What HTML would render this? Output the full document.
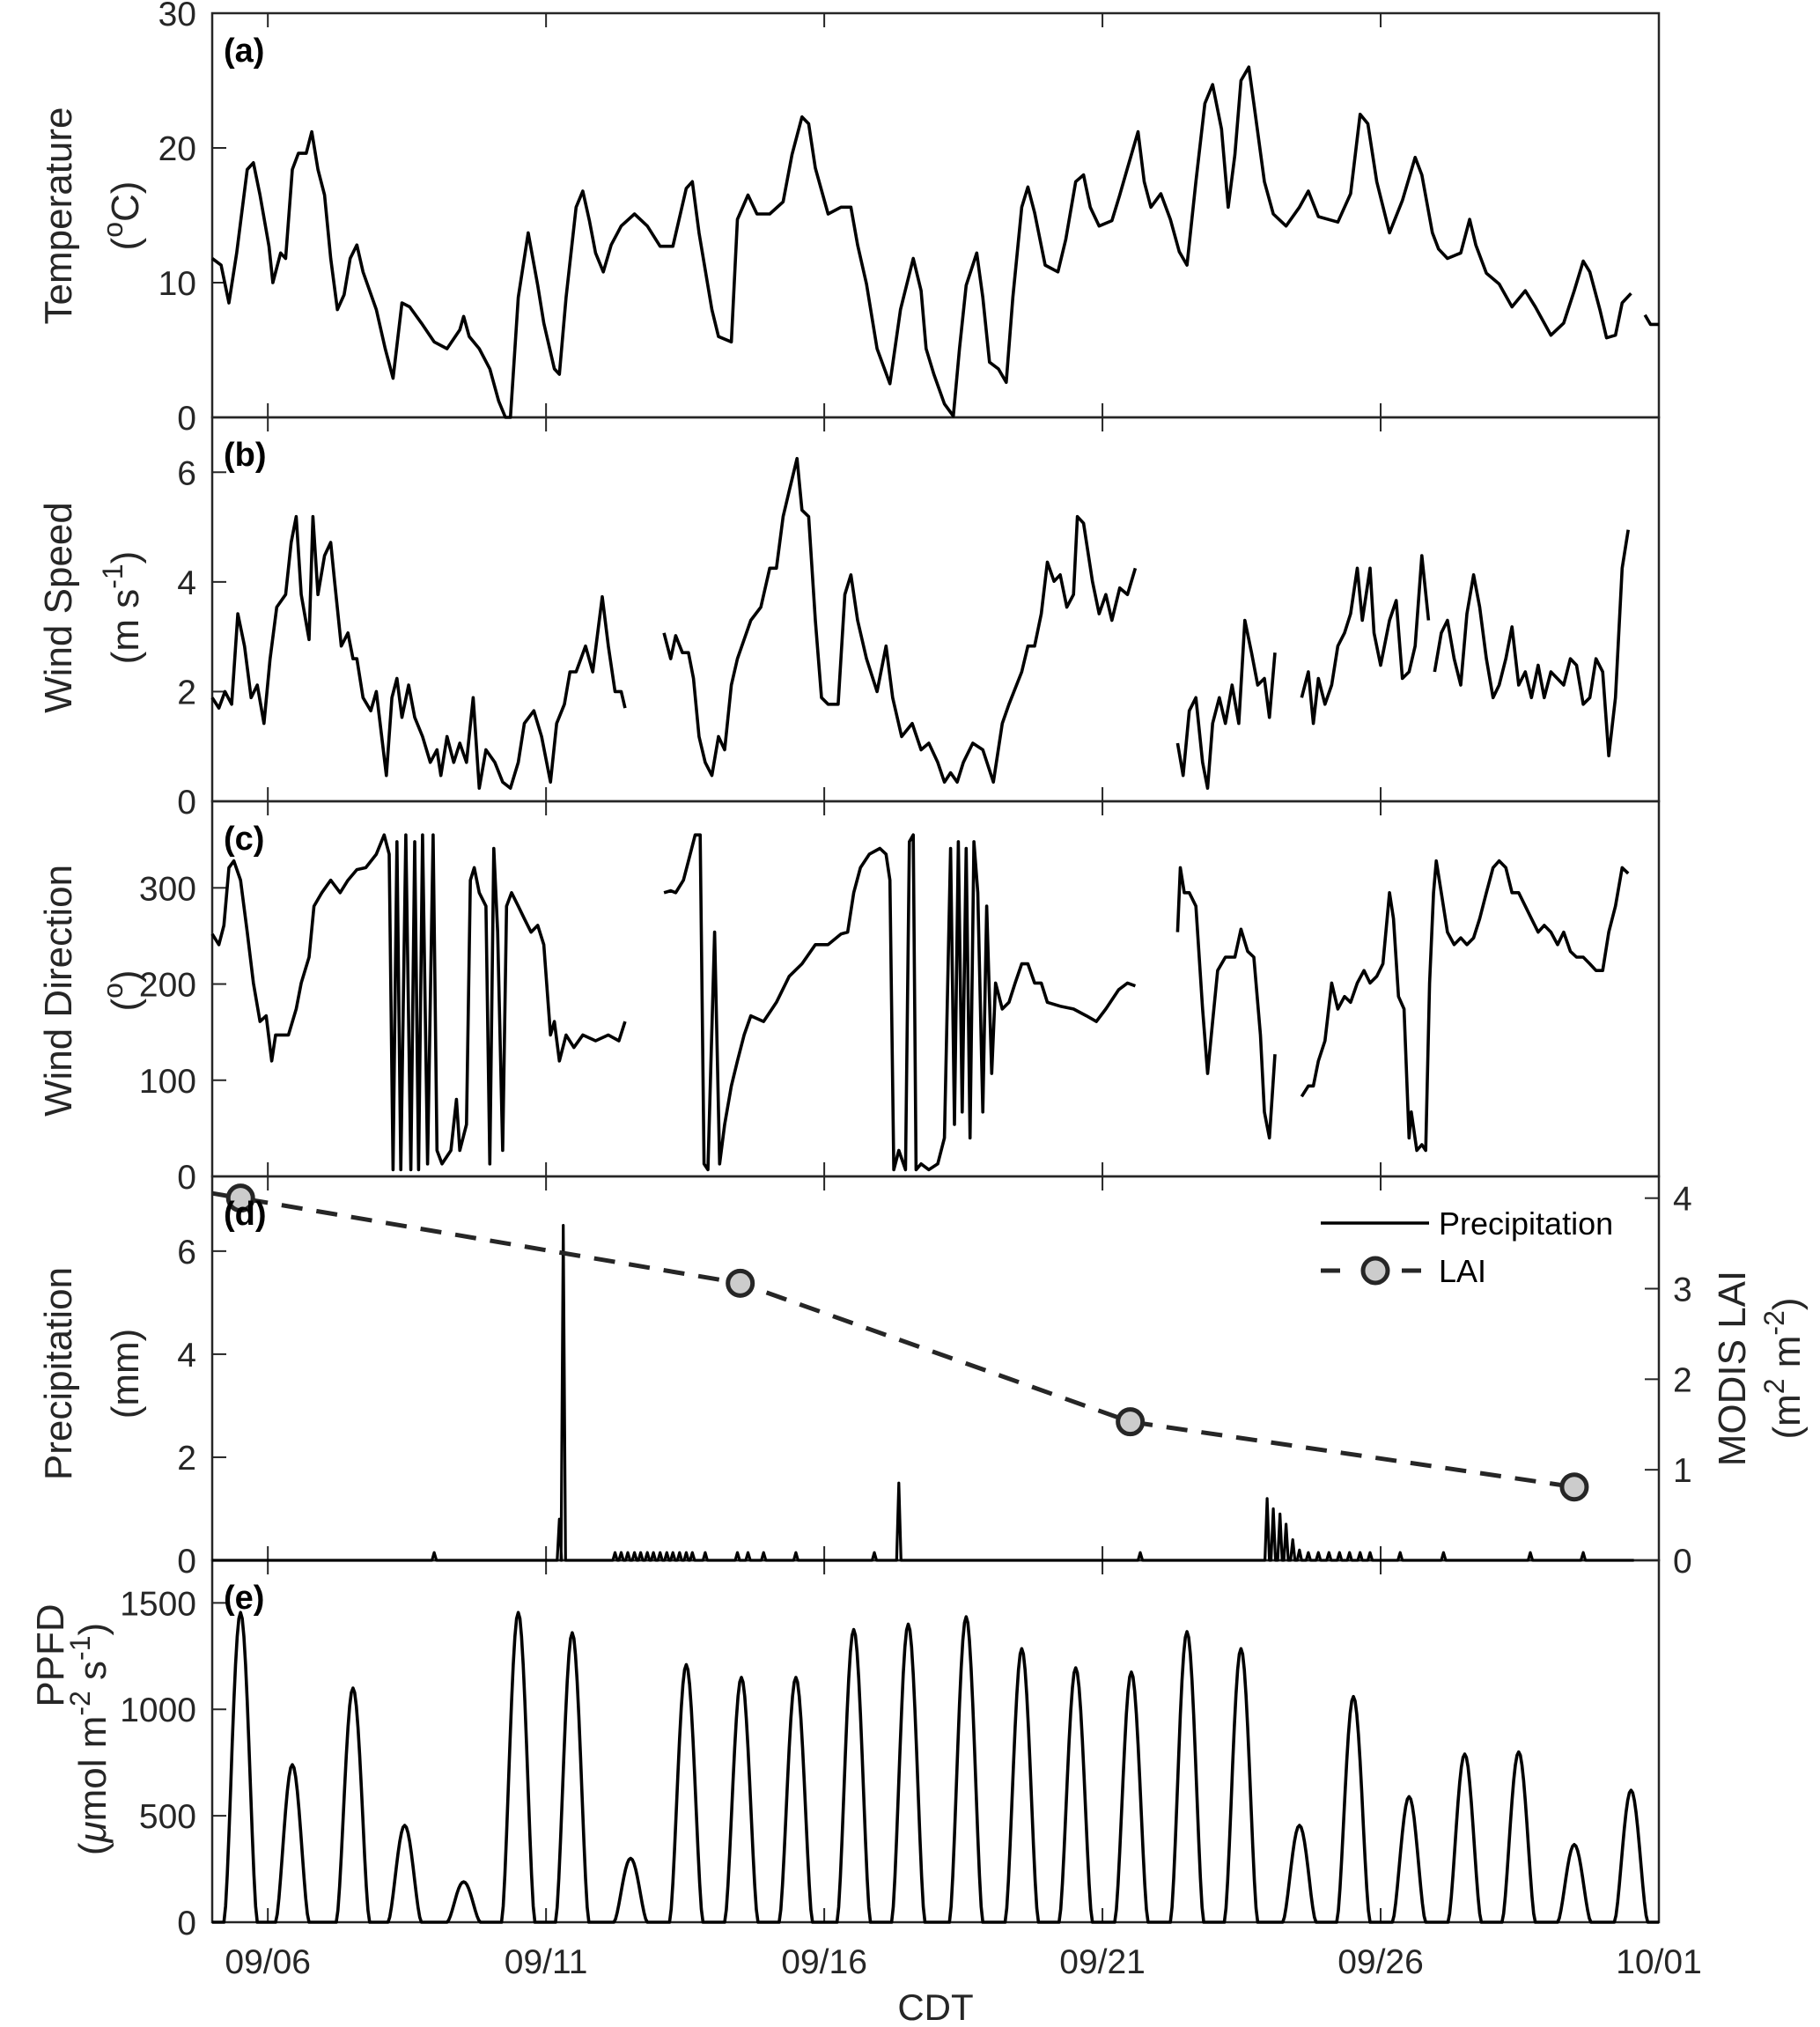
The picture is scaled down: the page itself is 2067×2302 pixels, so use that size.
<!DOCTYPE html>
<html><head><meta charset="utf-8">
<style>
html,body{margin:0;padding:0;background:#fff;}
svg{display:block;font-family:"Liberation Sans",Arial,sans-serif;}
</style></head>
<body>
<svg id="chart" width="2067" height="2302" viewBox="0 0 2067 2302" xmlns="http://www.w3.org/2000/svg">
<g id="frames"></g>
<g id="marks"></g>
<g id="labels"></g>
</svg>
<script>
// ---- x axis (days since 09/05 00:00 CDT) ----
const xTickDays = [1, 6, 11, 16, 21, 26];
const xTickLabels = ["09/06", "09/11", "09/16", "09/21", "09/26", "10/01"];

// ---- (a) temperature ----
const tempDays = [0,0.16,0.30,0.44,0.63,0.74,0.86,1.02,1.09,1.23,1.32,1.44,1.55,1.69,1.79,1.90,2.02,2.13,2.25,2.37,2.48,2.60,2.71,2.95,3.11,3.25,3.41,3.55,3.76,3.99,4.22,4.45,4.52,4.62,4.80,4.99,5.15,5.27,5.36,5.50,5.68,5.85,5.96,6.15,6.24,6.36,6.54,6.66,6.78,6.89,7.03,7.17,7.35,7.59,7.82,8.05,8.28,8.52,8.63,8.75,8.98,9.10,9.33,9.44,9.63,9.79,10.02,10.26,10.42,10.60,10.72,10.84,11.07,11.30,11.48,11.60,11.76,11.95,12.18,12.37,12.60,12.74,12.83,12.97,13.16,13.32,13.43,13.55,13.74,13.85,13.97,14.13,14.27,14.39,14.55,14.66,14.78,14.97,15.20,15.34,15.52,15.66,15.78,15.94,16.17,16.31,16.45,16.64,16.75,16.87,17.05,17.22,17.38,17.52,17.68,17.84,17.98,18.14,18.26,18.38,18.49,18.63,18.72,18.91,19.07,19.30,19.54,19.70,19.88,20.23,20.46,20.63,20.77,20.93,21.16,21.39,21.62,21.74,21.93,22.04,22.20,22.44,22.60,22.71,22.90,23.13,23.36,23.60,23.78,23.94,24.06,24.29,24.48,24.64,24.76,24.94,25.06,25.22,25.34,25.50,25.62,25.75,25.85,26.0];
const tempVals = [11.8,11.3,8.5,12.2,18.4,18.9,16.5,12.7,10.0,12.2,11.8,18.4,19.6,19.6,21.2,18.4,16.5,11.8,8.0,9.1,11.8,12.8,10.8,8.0,5.1,2.9,8.5,8.2,7.0,5.6,5.1,6.5,7.5,6.0,5.1,3.6,1.2,0,0,8.9,13.7,9.8,7.0,3.6,3.2,8.9,15.6,16.8,14.6,12.2,10.8,12.8,14.2,15.1,14.2,12.7,12.7,17.0,17.5,13.7,8.0,6.0,5.6,14.7,16.5,15.1,15.1,16.0,19.5,22.3,21.8,18.5,15.1,15.6,15.6,12.8,9.9,5.1,2.5,8.0,11.8,9.4,5.1,3.2,1.0,0.1,5.1,9.8,12.2,8.9,4.1,3.6,2.6,8.9,15.6,17.1,15.2,11.3,10.8,13.2,17.5,18.0,15.6,14.2,14.6,16.5,18.5,21.2,17.5,15.6,16.6,14.7,12.3,11.3,17.5,23.3,24.7,21.4,15.6,19.5,25.0,26.0,23.3,17.5,15.1,14.2,15.6,16.8,14.9,14.5,16.6,22.5,21.8,17.5,13.7,16.1,19.3,18.0,13.7,12.5,11.8,12.2,14.7,12.8,10.7,9.9,8.2,9.4,8.2,7.0,6.1,7.0,9.4,11.6,10.8,8.0,5.9,6.1,8.5,9.2,null,7.6,6.9,6.9];

// ---- (b) wind speed ----
const wsDays = [0,0.12,0.23,0.35,0.46,0.58,0.70,0.81,0.93,1.04,1.16,1.32,1.42,1.51,1.60,1.74,1.81,1.90,2.02,2.13,2.20,2.32,2.44,2.53,2.60,2.71,2.85,2.95,3.06,3.13,3.23,3.32,3.41,3.53,3.64,3.78,3.92,4.04,4.11,4.22,4.34,4.45,4.57,4.69,4.80,4.92,5.08,5.22,5.36,5.50,5.61,5.78,5.92,6.08,6.19,6.33,6.43,6.54,6.71,6.84,7.01,7.12,7.24,7.35,7.42,7.8,
8.12,8.24,8.33,8.45,8.56,8.65,8.75,8.86,8.98,9.10,9.21,9.33,9.44,9.56,9.68,9.86,10.02,10.14,10.26,10.37,10.51,10.60,10.72,10.84,10.95,11.07,11.25,11.37,11.48,11.60,11.76,11.95,12.11,12.23,12.39,12.58,12.74,12.88,13.04,13.16,13.27,13.39,13.50,13.67,13.85,14.04,14.20,14.32,14.55,14.66,14.78,14.90,15.01,15.13,15.24,15.36,15.48,15.55,15.66,15.82,15.94,16.06,16.17,16.31,16.45,16.59,17.0,
17.35,17.45,17.56,17.68,17.80,17.89,17.98,18.10,18.21,18.33,18.45,18.56,18.68,18.79,18.91,19.00,19.10,19.3,
19.58,19.70,19.79,19.88,20.00,20.12,20.23,20.35,20.46,20.58,20.67,20.81,20.88,21.00,21.16,21.28,21.39,21.51,21.62,21.74,21.86,21.92,
21.97,22.09,22.20,22.32,22.44,22.55,22.67,22.78,22.90,23.02,23.13,23.25,23.36,23.48,23.60,23.71,23.83,23.94,24.06,24.29,24.41,24.52,24.64,24.76,24.87,24.99,25.10,25.22,25.34,25.45];
const wsVals = [1.89,1.70,2.0,1.77,3.42,2.83,1.89,2.12,1.42,2.59,3.54,3.77,4.72,5.19,3.77,2.95,5.19,3.77,4.48,4.72,4.01,2.83,3.07,2.6,2.6,1.89,1.65,2.0,1.06,0.47,1.89,2.24,1.53,2.12,1.53,1.18,0.71,0.94,0.47,1.18,0.71,1.06,0.71,1.89,0.24,0.94,0.71,0.35,0.24,0.71,1.42,1.65,1.18,0.35,1.42,1.77,2.36,2.36,2.83,2.36,3.73,2.83,2.0,2.0,1.7,null,
3.07,2.6,3.02,2.71,2.71,2.24,1.18,0.71,0.47,1.18,0.94,2.12,2.6,2.95,3.3,3.54,4.25,4.25,5.19,5.66,6.25,5.31,5.19,3.3,1.89,1.77,1.77,3.77,4.13,3.3,2.6,2.0,2.83,1.89,1.18,1.42,0.94,1.06,0.71,0.35,0.52,0.35,0.71,1.06,0.94,0.35,1.42,1.77,2.36,2.83,2.83,3.42,4.36,4.01,4.13,3.54,3.77,5.19,5.07,4.01,3.42,3.77,3.3,3.89,3.77,4.25,null,
1.06,0.47,1.65,1.89,0.71,0.24,1.42,1.89,1.42,2.12,1.42,3.3,2.71,2.12,2.24,1.53,2.71,null,
1.89,2.36,1.42,2.24,1.77,2.12,2.83,3.07,3.42,4.25,3.3,4.25,3.07,2.48,3.3,3.66,2.24,2.36,2.83,4.48,3.3,null,
2.36,3.07,3.3,2.6,2.12,3.42,4.13,3.54,2.6,1.89,2.12,2.6,3.18,2.12,2.36,1.89,2.48,1.89,2.36,2.12,2.6,2.48,1.77,1.89,2.6,2.36,0.83,1.89,4.25,4.95];

// ---- (c) wind direction ----
const wdDays = [0,0.12,0.21,0.30,0.39,0.51,0.63,0.74,0.86,0.97,1.07,1.14,1.23,1.37,1.51,1.60,1.74,1.83,1.97,2.13,2.30,2.44,2.60,2.76,2.95,3.09,3.18,3.25,3.32,3.39,3.48,3.57,3.64,3.71,3.78,3.87,3.97,4.04,4.13,4.29,4.39,4.45,4.57,4.64,4.71,4.80,4.92,4.99,5.06,5.13,5.22,5.29,5.38,5.50,5.61,5.73,5.85,5.96,6.08,6.15,6.24,6.36,6.50,6.66,6.89,7.12,7.31,7.42,7.8,
8.12,8.24,8.33,8.47,8.56,8.68,8.77,8.84,8.91,9.03,9.12,9.21,9.33,9.44,9.56,9.68,9.91,10.14,10.37,10.60,10.84,11.07,11.30,11.42,11.53,11.65,11.81,12.00,12.11,12.18,12.25,12.34,12.46,12.53,12.60,12.65,12.74,12.88,13.04,13.16,13.27,13.34,13.41,13.48,13.55,13.62,13.69,13.76,13.85,13.92,14.01,14.08,14.20,14.32,14.43,14.55,14.66,14.78,14.90,15.01,15.24,15.48,15.71,15.89,16.06,16.29,16.45,16.59,17.0,
17.35,17.40,17.47,17.56,17.68,17.80,17.89,17.98,18.07,18.21,18.38,18.49,18.61,18.72,18.84,18.91,19.00,19.10,19.3,
19.58,19.70,19.79,19.88,20.00,20.12,20.23,20.35,20.46,20.58,20.70,20.81,20.93,21.04,21.16,21.23,21.32,21.42,21.51,21.55,21.65,21.74,21.81,21.88,21.95,22.00,22.09,22.20,22.32,22.44,22.55,22.67,22.78,22.90,23.02,23.13,23.25,23.36,23.48,23.60,23.71,23.83,23.94,24.06,24.18,24.29,24.41,24.52,24.64,24.76,24.87,24.99,25.10,25.22,25.34,25.45];
const wdVals = [252,241,261,321,328,308,254,201,161,167,120,147,147,147,174,201,228,281,295,308,295,308,319,321,335,355,335,7,348,7,355,7,348,7,355,13,355,27,13,27,80,27,54,308,321,295,281,13,341,254,27,281,295,281,268,254,261,241,147,161,120,147,134,147,141,147,141,161,null,
295,297,295,308,328,355,355,13,7,254,13,54,94,120,147,167,161,181,208,221,241,241,252,254,295,321,335,341,335,308,7,27,7,348,355,7,13,7,13,40,341,54,348,67,341,40,348,295,67,281,107,201,174,181,201,221,221,201,201,181,177,174,167,161,174,194,201,198,null,
254,321,295,295,281,174,107,161,214,228,228,257,234,228,147,67,40,127,null,
83,94,94,120,141,201,174,187,181,201,214,201,208,221,295,268,187,174,40,67,27,33,27,201,295,328,295,254,241,248,241,248,268,295,321,328,321,295,295,281,268,254,261,254,241,254,234,228,228,221,214,214,254,281,321,315];

// ---- (d) precipitation events and LAI ----
const precipDays = [3.99,6.24,6.31,7.24,7.35,7.47,7.59,7.70,7.82,7.93,8.05,8.17,8.28,8.40,8.52,8.63,8.86,9.44,9.63,9.91,10.49,11.90,12.34,16.68,18.96,19.07,19.19,19.30,19.42,19.54,19.70,19.88,20.07,20.26,20.44,20.63,20.81,21.35,22.13,23.69,24.64];
const precipVals = [0.15,0.8,6.5,0.15,0.15,0.15,0.15,0.15,0.15,0.15,0.15,0.15,0.15,0.15,0.15,0.15,0.15,0.15,0.15,0.15,0.15,0.15,1.5,0.15,1.2,1.0,0.9,0.7,0.4,0.2,0.15,0.15,0.15,0.15,0.15,0.15,0.15,0.15,0.15,0.15,0.15];
const laiDays = [0.51, 9.49, 16.50, 24.48];
const laiVals = [4.0, 3.06, 1.53, 0.81];

// ---- (e) PPFD daily peaks ----
const ppfdPeakDays = [0.51,1.44,2.53,3.46,4.52,5.50,6.47,7.52,8.52,9.51,10.49,11.53,12.51,13.55,14.55,15.52,16.52,17.52,18.49,19.54,20.51,21.51,22.51,23.48,24.48,25.50];
const ppfdPeakVals = [1455,740,1100,455,190,1455,1360,300,1210,1150,1150,1375,1400,1435,1285,1195,1175,1365,1285,455,1060,590,790,800,365,620];

// ================= drawing =================
const NS = "http://www.w3.org/2000/svg";
const L = 241, R = 1884, D0 = 0, D1 = 26;
const panels = {
  a:{top:15, bot:474, min:0, max:30},
  b:{top:474, bot:910, min:0, max:7},
  c:{top:910, bot:1336, min:0, max:390},
  d:{top:1336, bot:1772, min:0, max:7.45},
  e:{top:1772, bot:2183, min:0, max:1700}
};
const laiAxis = {min:0, max:4.24};
function xs(d){ return L + (d - D0) / (D1 - D0) * (R - L); }
function ys(p, v){ const P = panels[p]; return P.bot - (v - P.min) / (P.max - P.min) * (P.bot - P.top); }
function yl(v){ const P = panels.d; return P.bot - (v - laiAxis.min) / (laiAxis.max - laiAxis.min) * (P.bot - P.top); }
function el(tag, attrs, parent){ const e = document.createElementNS(NS, tag); for (const k in attrs) e.setAttribute(k, attrs[k]); parent.appendChild(e); return e; }
const frames = document.getElementById('frames');
const marks = document.getElementById('marks');
const labels = document.getElementById('labels');

function linePath(days, vals, yf){
  let d = "", pen = false;
  for (let i = 0; i < days.length; i++){
    if (vals[i] === null){ pen = false; continue; }
    d += (pen ? "L" : "M") + xs(days[i]).toFixed(1) + "," + yf(vals[i]).toFixed(1);
    pen = true;
  }
  return d;
}
function seriesLine(name, days, vals, yf, extra){
  const p = el('path', Object.assign({d: linePath(days, vals, yf), fill:'none', stroke:'#000', 'stroke-width':3.6, 'stroke-linejoin':'round'}, extra || {}), marks);
  
  
  return p;
}

const yTicks = {a:[0,10,20,30], b:[0,2,4,6], c:[0,100,200,300], d:[0,2,4,6], e:[0,500,1000,1500]};
const SUP = 'baseline-shift="super" font-size="32"';
// [line1, line2, line1 y, line2 y, line1 baseline x, line2 baseline x]
const titles = {
  a:['Temperature','(<tspan '+SUP+'>o</tspan>C)', 245, 245, 81, 157],
  b:['Wind Speed','(m s<tspan '+SUP+'>-1</tspan>)', 690, 690, 81, 157],
  c:['Wind Direction','(<tspan '+SUP+'>o</tspan>)', 1125, 1125, 81, 157],
  d:['Precipitation','(mm)', 1560, 1560, 81, 157],
  e:['PPFD','(<tspan font-style="italic">μ</tspan>mol m<tspan '+SUP+'>-2</tspan> s<tspan '+SUP+'>-1</tspan>)', 1880, 1975, 72, 120]
};
Object.keys(panels).forEach(k => {
  const P = panels[k];
  const r = el('rect', {x:L, y:P.top, width:R-L, height:P.bot-P.top, fill:'none', stroke:'#262626', 'stroke-width':2.5}, frames);
  
  
  xTickDays.forEach(d => {
    el('line', {x1:xs(d), x2:xs(d), y1:P.bot, y2:P.bot-16, stroke:'#262626', 'stroke-width':2}, frames);
    el('line', {x1:xs(d), x2:xs(d), y1:P.top, y2:P.top+16, stroke:'#262626', 'stroke-width':2}, frames);
  });
  yTicks[k].forEach(v => {
    const y = ys(k, v);
    el('line', {x1:L, x2:L+16, y1:y, y2:y, stroke:'#262626', 'stroke-width':2}, frames);
    const t = el('text', {x:223, y:y+14, 'text-anchor':'end', 'font-size':39, fill:'#262626'}, labels);
    t.textContent = v;
    
    
  });
  const lab = el('text', {x:254, y:P.top+55, 'font-size':38, 'font-weight':'bold', fill:'#000'}, labels);
  lab.textContent = '(' + k + ')';
  
  
  const T = titles[k];
  const t1 = el('text', {x:0, y:0, transform:'translate(' + T[4] + ',' + T[2] + ') rotate(-90)', 'text-anchor':'middle', 'font-size':44, fill:'#262626'}, labels);
  t1.textContent = T[0];
  
  
  const t2 = el('text', {x:0, y:0, transform:'translate(' + T[5] + ',' + T[3] + ') rotate(-90)', 'text-anchor':'middle', 'font-size':44, fill:'#262626'}, labels);
  t2.innerHTML = T[1];
  
  
});
[0,1,2,3,4].forEach(v => {
  const y = yl(v);
  el('line', {x1:R, x2:R-16, y1:y, y2:y, stroke:'#262626', 'stroke-width':2}, frames);
  const t = el('text', {x:1900, y:y+14, 'font-size':39, fill:'#262626'}, labels);
  t.textContent = v;
  
  
});
const rt1 = el('text', {x:0, y:0, transform:'translate(1982,1554) rotate(-90)', 'text-anchor':'middle', 'font-size':44, fill:'#262626'}, labels);
rt1.textContent = 'MODIS LAI';


const rt2 = el('text', {x:0, y:0, transform:'translate(2044,1554) rotate(-90)', 'text-anchor':'middle', 'font-size':44, fill:'#262626'}, labels);
rt2.innerHTML = '(m<tspan '+SUP+'>2</tspan> m<tspan '+SUP+'>-2</tspan>)';


xTickDays.forEach((d, i) => {
  const t = el('text', {x:xs(d), y:2241, 'text-anchor':'middle', 'font-size':39, fill:'#262626'}, labels);
  t.textContent = xTickLabels[i];
  
  
});
const xt = el('text', {x:(L+R)/2, y:2294, 'text-anchor':'middle', 'font-size':42, fill:'#262626'}, labels);
xt.textContent = 'CDT';



seriesLine('temperature-line', tempDays, tempVals, v => ys('a', v));
seriesLine('wind-speed-line', wsDays, wsVals, v => ys('b', v));
seriesLine('wind-direction-line', wdDays, wdVals, v => ys('c', v));

(function(){
  const dd = [0], vv = [0];
  precipDays.forEach((d, i) => { dd.push(d - 0.04, d, d + 0.04); vv.push(0, precipVals[i], 0); });
  dd.push(25.55); vv.push(0);
  seriesLine('precipitation-line', dd, vv, v => ys('d', v), {'stroke-width':3.2});
})();

(function(){
  const slope = (laiVals[1] - laiVals[0]) / (laiDays[1] - laiDays[0]);
  const dd = [0].concat(laiDays), vv = [laiVals[0] - slope * laiDays[0]].concat(laiVals);
  seriesLine('lai-dashed-line', dd, vv, yl, {stroke:'#262626', 'stroke-width':5, 'stroke-dasharray':'24,16'});
  laiDays.forEach((d, i) => {
    const c = el('circle', {cx:xs(d), cy:yl(laiVals[i]), r:14, fill:'#cccccc', stroke:'#262626', 'stroke-width':5}, marks);
    
    
  });
})();

(function(){
  const dd = [], vv = [];
  const hw = 0.3;
  dd.push(0); vv.push(0);
  ppfdPeakDays.forEach((pk, i) => {
    for (let s = -hw; s <= hw + 1e-9; s += 0.03){
      const f = Math.cos(Math.PI * s / (2 * hw));
      dd.push(pk + s); vv.push(ppfdPeakVals[i] * Math.pow(Math.max(f, 0), 1.6));
    }
  });
  dd.push(26); vv.push(0);
  seriesLine('ppfd-line', dd, vv, v => ys('e', v));
})();

(function(){
  const g = el('g', {}, labels);
  
  
  const l1 = el('line', {x1:1500, x2:1623, y1:1389, y2:1389, stroke:'#000', 'stroke-width':3.6}, g);
  
  
  const t1 = el('text', {x:1634, y:1402, 'font-size':36, fill:'#000'}, g);
  t1.textContent = 'Precipitation';
  
  
  const l2 = el('line', {x1:1500, x2:1623, y1:1443, y2:1443, stroke:'#262626', 'stroke-width':5, 'stroke-dasharray':'22,24'}, g);
  
  
  const c = el('circle', {cx:1562, cy:1443, r:14, fill:'#cccccc', stroke:'#262626', 'stroke-width':5}, g);
  
  
  const t2 = el('text', {x:1634, y:1456, 'font-size':36, fill:'#000'}, g);
  t2.textContent = 'LAI';
  
  
})();
</script>
</body></html>
